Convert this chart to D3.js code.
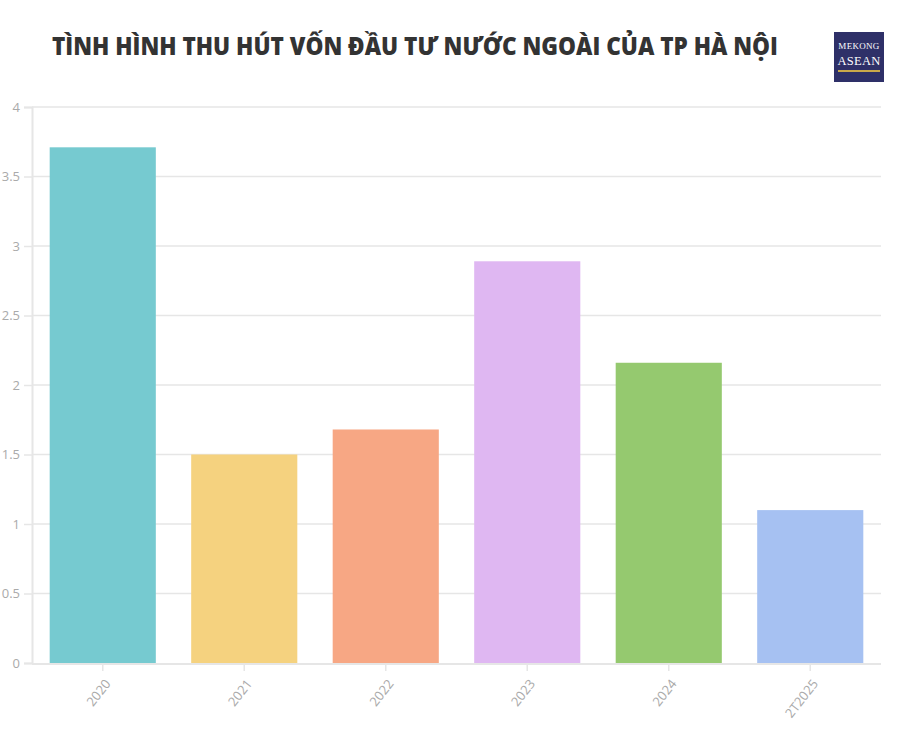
<!DOCTYPE html>
<html><head><meta charset="utf-8">
<script src="https://cdn.jsdelivr.net/npm/d3@7"></script>
<style>
body{margin:0;background:#fff;position:relative;} svg{display:block;}
#logo{position:absolute;left:834px;top:32px;width:50px;height:50px;background:#2e3068;color:#fff;font-family:'Liberation Serif',serif;text-align:center;box-sizing:border-box;padding-top:9px;}
#logo .a{font-size:9px;line-height:10px;letter-spacing:0.3px;}
#logo .b{font-size:12.5px;line-height:13px;margin-top:4px;letter-spacing:0.3px;}
#logo .c{height:1.5px;background:#c9a94a;margin:2px 4px 0 4px;}
</style>
</head><body>
<svg id="c" width="916" height="745"></svg>
<div id="logo"><div class="a">MEKONG</div><div class="b">ASEAN</div><div class="c"></div></div>
<script>
const categories = ["2020","2021","2022","2023","2024","2T2025"];
const values = [3.71, 1.50, 1.68, 2.89, 2.16, 1.10];
const colors = ["#76cad0","#f5d27f","#f7a784","#dfb7f2","#95c96f","#a6c1f2"];
const yTicks = [0,0.5,1,1.5,2,2.5,3,3.5,4];
const title = "TÌNH HÌNH THU HÚT VỐN ĐẦU TƯ NƯỚC NGOÀI CỦA TP HÀ NỘI";

const svg = d3.select("#c");
const m = {left:32, right:881, top:107, bottom:663};
const x = d3.scaleBand().domain(categories).range([m.left, m.right]).paddingInner(0.25).paddingOuter(0.125);
const y = d3.scaleLinear().domain([0,4]).range([m.bottom, m.top]);

svg.append("text").attr("x",52).attr("y",55).attr("font-family","'Open Sans', sans-serif")
  .attr("font-weight",800).attr("font-size",25.5).attr("fill","#333").attr("textLength",726).attr("lengthAdjust","spacingAndGlyphs").text(title);

// grid + y axis
const yAxis = d3.axisLeft(y).tickValues(yTicks).tickSize(8).tickFormat(d3.format(""));
const ya = svg.append("g").attr("transform",`translate(${m.left},0)`).call(yAxis);
ya.select(".domain").attr("stroke","#e6e6e6").attr("stroke-width",2);
ya.selectAll(".tick line").attr("stroke","#e6e6e6").attr("stroke-width",1.5);
ya.selectAll(".tick text").attr("fill","#aaa").attr("font-size",13).attr("font-family","'Open Sans', sans-serif").attr("x",-12);
svg.append("g").selectAll("line").data(yTicks.filter(d=>d>0)).join("line")
  .attr("x1",m.left).attr("x2",m.right).attr("y1",d=>y(d)).attr("y2",d=>y(d)).attr("stroke","#e6e6e6").attr("stroke-width",1.5);

// bars
svg.append("g").selectAll("rect").data(values).join("rect")
  .attr("x",(d,i)=>x(categories[i])).attr("width",x.bandwidth())
  .attr("y",d=>y(d)).attr("height",d=>y(0)-y(d)).attr("fill",(d,i)=>colors[i]);

// x axis
const xa = svg.append("g").attr("transform",`translate(0,${m.bottom})`).call(d3.axisBottom(x).tickSize(8).tickSizeOuter(0));
xa.select(".domain").attr("stroke","#e6e6e6").attr("stroke-width",2).attr("d",`M${m.left},1H${m.right}`);
xa.selectAll(".tick line").attr("stroke","#e6e6e6").attr("stroke-width",1.5).attr("y1",2);
xa.selectAll(".tick text").attr("fill","#aaa").attr("font-size",13).attr("font-family","'Open Sans', sans-serif")
  .attr("text-anchor","end").attr("dy","0.35em").attr("transform","translate(5,18) rotate(-52)").attr("y",0).attr("x",0);
</script>
</body></html>
